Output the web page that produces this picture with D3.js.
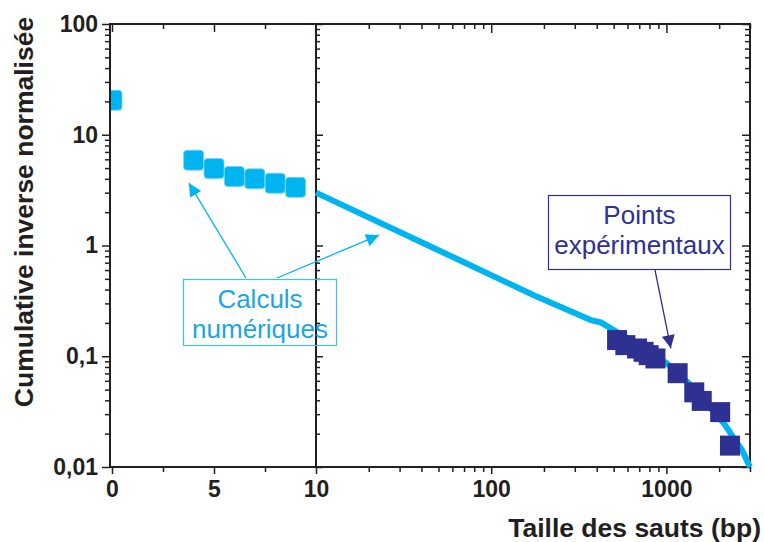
<!DOCTYPE html>
<html><head><meta charset="utf-8">
<script src="https://cdn.jsdelivr.net/npm/d3@7"></script>
<style>
html,body{margin:0;padding:0;background:#fff;}
svg{display:block;}
text{font-family:"Liberation Sans",Arial,sans-serif;}
</style></head>
<body>
<script>
// ---- data ----
const calcPointsX = [0, 4, 5, 6, 7, 8, 9];
const calcPointsY = [20.5, 5.9, 4.95, 4.2, 4.0, 3.65, 3.35];
const calcLineX = [10, 60, 175, 370, 420, 500, 650, 800, 1000, 1340, 2120, 2700, 3000];
const calcLineY = [3.0, 0.79, 0.356, 0.212, 0.203, 0.172, 0.135, 0.108, 0.087, 0.057, 0.025, 0.0142, 0.01];
const expX = [523, 583, 680, 741, 792, 866, 1159, 1442, 1591, 2027, 2306];
const expY = [0.140, 0.126, 0.1175, 0.1096, 0.1023, 0.0955, 0.0703, 0.0472, 0.0395, 0.0313, 0.0156];
const yTickValues = [0.01, 0.1, 1, 10, 100];
const yTickLabels = ["0,01", "0,1", "1", "10", "100"];
const xLinTickValues = [0, 5, 10];
const xLinTickLabels = ["0", "5", "10"];
const xLinMinor = [2.5, 7.5];
const xLogTickValues = [100, 1000];
const xLogTickLabels = ["100", "1000"];
const xTitle = "Taille des sauts (bp)";
const yTitle = "Cumulative inverse normalisée";
const noteCalc = ["Calculs", "numériques"];
const noteExp = ["Points", "expérimentaux"];

// ---- layout ----
const W = 764, H = 542;
const pL = 110, pR = 750, pT = 24, pB = 467, pSplit = 316;
const lightBlue = "#00b5ef", darkBlue = "#2e3192", ink = "#231f20";

const svg = d3.select("body").append("svg").attr("width", W).attr("height", H);

const y = d3.scaleLog().domain([0.01, 100]).range([pB, pT]);
const xLin = d3.scaleLinear().domain([0, 10]).range([112, pSplit]);
const xLog = d3.scaleLog().domain([10, 3000]).range([pSplit, pR]);

// minor log ticks
const yMinor = [];
[0.01, 0.1, 1, 10].forEach(d => { for (let k = 2; k <= 9; k++) yMinor.push(d * k); });
const xLogMinor = [];
[10, 100, 1000].forEach(d => { for (let k = 2; k <= 9; k++) { const v = d * k; if (v <= 3000) xLogMinor.push(v); } });

function styleAxis(g) {
  g.select(".domain").remove();
  g.selectAll("line").attr("stroke", ink).attr("stroke-width", 1.5);
  g.selectAll("text").attr("fill", ink).attr("font-weight", "bold").attr("font-size", 23)
    .attr("font-family", "'Liberation Sans',Arial,sans-serif");
}

// left axis (outward)
svg.append("g").attr("transform", `translate(${pL},0)`)
  .call(d3.axisLeft(y).tickValues(yTickValues).tickSize(8).tickPadding(4)
    .tickFormat((d, i) => yTickLabels[i])).call(styleAxis);
svg.append("g").attr("transform", `translate(${pL},0)`)
  .call(d3.axisLeft(y).tickValues(yMinor).tickSize(5).tickFormat("")).call(styleAxis);
// middle axis (ticks into right panel)
svg.append("g").attr("transform", `translate(${pSplit},0)`)
  .call(d3.axisLeft(y).tickValues(yTickValues).tickSize(-7).tickFormat("")).call(styleAxis);
svg.append("g").attr("transform", `translate(${pSplit},0)`)
  .call(d3.axisLeft(y).tickValues(yMinor).tickSize(-4).tickFormat("")).call(styleAxis);
// right axis (inward)
svg.append("g").attr("transform", `translate(${pR},0)`)
  .call(d3.axisRight(y).tickValues(yTickValues).tickSize(-8).tickFormat("")).call(styleAxis);
svg.append("g").attr("transform", `translate(${pR},0)`)
  .call(d3.axisRight(y).tickValues(yMinor).tickSize(-5).tickFormat("")).call(styleAxis);

// bottom axes (outward)
svg.append("g").attr("transform", `translate(0,${pB})`)
  .call(d3.axisBottom(xLin).tickValues(xLinTickValues).tickSize(7).tickPadding(7)
    .tickFormat((d, i) => xLinTickLabels[i])).call(styleAxis);
svg.append("g").attr("transform", `translate(0,${pB})`)
  .call(d3.axisBottom(xLin).tickValues(xLinMinor).tickSize(5).tickFormat("")).call(styleAxis);
svg.append("g").attr("transform", `translate(0,${pB})`)
  .call(d3.axisBottom(xLog).tickValues(xLogTickValues).tickSize(7).tickPadding(7)
    .tickFormat((d, i) => xLogTickLabels[i])).call(styleAxis);
svg.append("g").attr("transform", `translate(0,${pB})`)
  .call(d3.axisBottom(xLog).tickValues(xLogMinor).tickSize(5).tickFormat("")).call(styleAxis);

// top axes (inward)
svg.append("g").attr("transform", `translate(0,${pT})`)
  .call(d3.axisTop(xLin).tickValues(xLinTickValues.slice(0, 2)).tickSize(-8).tickFormat("")).call(styleAxis);
svg.append("g").attr("transform", `translate(0,${pT})`)
  .call(d3.axisTop(xLin).tickValues(xLinMinor).tickSize(-5).tickFormat("")).call(styleAxis);
svg.append("g").attr("transform", `translate(0,${pT})`)
  .call(d3.axisTop(xLog).tickValues(xLogTickValues).tickSize(-9).tickFormat("")).call(styleAxis);
svg.append("g").attr("transform", `translate(0,${pT})`)
  .call(d3.axisTop(xLog).tickValues(xLogMinor).tickSize(-5).tickFormat("")).call(styleAxis);

// frame
svg.append("rect").attr("x", pL).attr("y", pT).attr("width", pR - pL).attr("height", pB - pT)
  .attr("fill", "none").attr("stroke", ink).attr("stroke-width", 2);
svg.append("line").attr("x1", pSplit).attr("x2", pSplit).attr("y1", pT).attr("y2", pB)
  .attr("stroke", ink).attr("stroke-width", 2);

// clip for left panel
svg.append("clipPath").attr("id", "clipL").append("rect")
  .attr("x", pL + 1).attr("y", pT).attr("width", pSplit - pL - 1).attr("height", pB - pT);

// calc line
const lineData = calcLineX.map((d, i) => [d, calcLineY[i]]);
svg.append("path").datum(lineData)
  .attr("d", d3.line().x(d => xLog(d[0])).y(d => y(d[1])))
  .attr("fill", "none").attr("stroke", lightBlue).attr("stroke-width", 6)
  .attr("stroke-linejoin", "round");

// calc squares
const sq = 20;
svg.append("g").attr("clip-path", "url(#clipL)").selectAll("rect")
  .data(calcPointsX.map((d, i) => [d, calcPointsY[i]])).join("rect")
  .attr("x", d => xLin(d[0]) - sq / 2).attr("y", d => y(d[1]) - sq / 2)
  .attr("width", sq).attr("height", sq).attr("rx", 3.5)
  .attr("fill", lightBlue).attr("stroke", "#6fd3f5").attr("stroke-width", 0.8);

// experimental squares
svg.append("g").selectAll("rect")
  .data(expX.map((d, i) => [d, expY[i]])).join("rect")
  .attr("x", d => xLog(d[0]) - sq / 2).attr("y", d => y(d[1]) - sq / 2)
  .attr("width", sq).attr("height", sq)
  .attr("fill", darkBlue);

// arrows
function arrow(x1, y1, x2, y2, color) {
  svg.append("line").attr("x1", x1).attr("y1", y1).attr("x2", x2).attr("y2", y2)
    .attr("stroke", color).attr("stroke-width", 1.3);
  const a = Math.atan2(y2 - y1, x2 - x1), L = 13, w = 6.5;
  const bx = x2 - L * Math.cos(a), by = y2 - L * Math.sin(a);
  const px = -Math.sin(a) * w, py = Math.cos(a) * w;
  svg.append("path").attr("d", `M${x2},${y2}L${bx + px},${by + py}L${bx - px},${by - py}Z`).attr("fill", color);
}
arrow(246, 278, xLin(3.77), y(3.66), lightBlue);
arrow(277, 278, xLog(22.9), y(1.24), lightBlue);
arrow(655, 270, xLog(1060), y(0.118), darkBlue);

// annotation boxes
function note(x0, y0, w, h, lines, color, stroke) {
  svg.append("rect").attr("x", x0).attr("y", y0).attr("width", w).attr("height", h)
    .attr("fill", "none").attr("stroke", stroke).attr("stroke-width", 1.2);
  lines.forEach((t, i) => {
    svg.append("text").attr("x", x0 + w / 2).attr("y", y0 + 28 + i * 30.5)
      .attr("text-anchor", "middle").attr("font-size", 26).attr("fill", color).text(t);
  });
}
note(183.5, 279.5, 153, 66, noteCalc, "#1aa6df", "#3cc0ee");
note(548.5, 195.5, 182, 74, noteExp, darkBlue, darkBlue);

// titles
svg.append("text").attr("x", 761).attr("y", 537).attr("text-anchor", "end")
  .attr("font-size", 26.5).attr("font-weight", "bold").attr("fill", ink).text(xTitle);
svg.append("text").attr("transform", "translate(33,212) rotate(-90)").attr("text-anchor", "middle")
  .attr("font-size", 26.5).attr("font-weight", "bold").attr("fill", ink).text(yTitle);
</script>
</body></html>
